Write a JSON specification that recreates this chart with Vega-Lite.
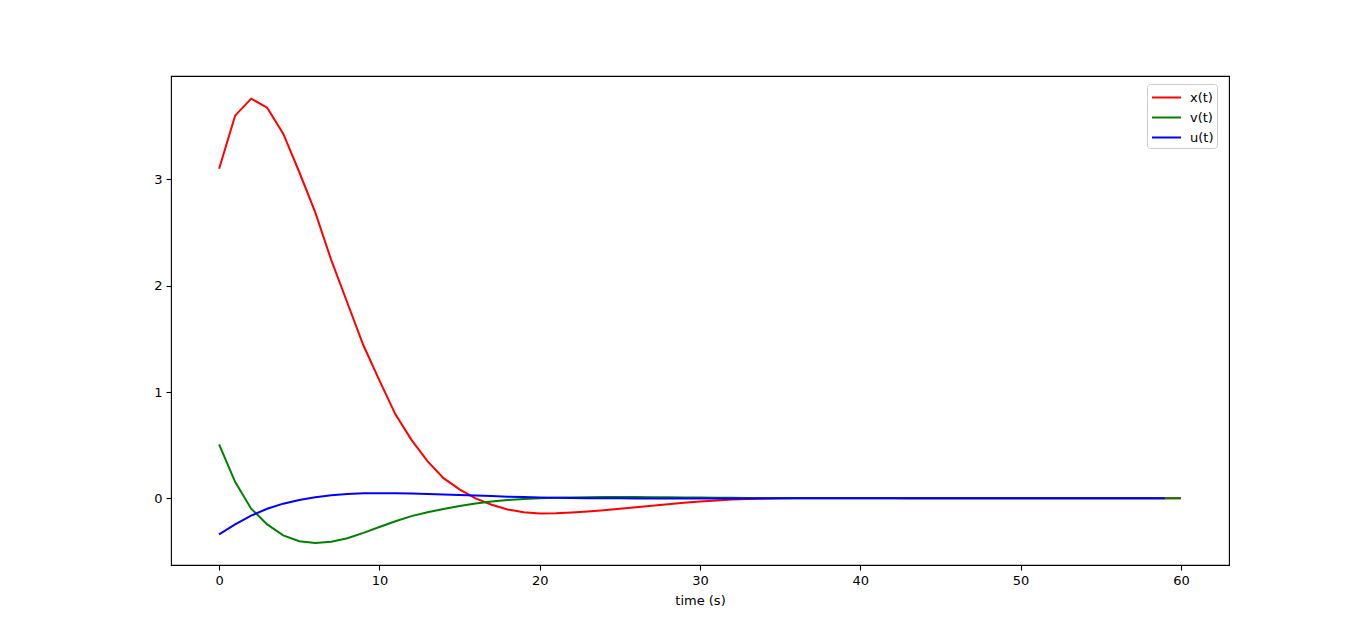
{
  "$schema": "https://vega.github.io/schema/vega-lite/v6.json",
  "autosize": {"type": "none"},
  "width": 1058,
  "height": 489,
  "padding": {"left": 171, "top": 76, "right": 137, "bottom": 70},
  "background": "white",
  "config": {
    "font": "DejaVu Sans",
    "view": {"stroke": "black", "strokeWidth": 1.1},
    "axis": {"grid": false, "domain": false, "tickColor": "black", "tickSize": 5, "tickWidth": 1.1, "labelColor": "black", "labelFontSize": 13, "labelPadding": 4, "labelFont": "DejaVu Sans", "titleFont": "DejaVu Sans", "titleFontSize": 13, "titleFontWeight": "normal", "titleColor": "black"}
  },
  "datasets": {
    "sim": [
      {"t":0,"s":"x(t)","y":3.10},{"t":1,"s":"x(t)","y":3.60},{"t":2,"s":"x(t)","y":3.76},{"t":3,"s":"x(t)","y":3.675},{"t":4,"s":"x(t)","y":3.43},{"t":5,"s":"x(t)","y":3.07},{"t":6,"s":"x(t)","y":2.69},{"t":7,"s":"x(t)","y":2.24},{"t":8,"s":"x(t)","y":1.84},{"t":9,"s":"x(t)","y":1.44},
      {"t":10,"s":"x(t)","y":1.11},{"t":11,"s":"x(t)","y":0.79},{"t":12,"s":"x(t)","y":0.55},{"t":13,"s":"x(t)","y":0.35},{"t":14,"s":"x(t)","y":0.19},{"t":15,"s":"x(t)","y":0.085},{"t":16,"s":"x(t)","y":0.0},{"t":17,"s":"x(t)","y":-0.06},{"t":18,"s":"x(t)","y":-0.105},{"t":19,"s":"x(t)","y":-0.13},
      {"t":20,"s":"x(t)","y":-0.142},{"t":21,"s":"x(t)","y":-0.141},{"t":22,"s":"x(t)","y":-0.134},{"t":23,"s":"x(t)","y":-0.124},{"t":24,"s":"x(t)","y":-0.111},{"t":25,"s":"x(t)","y":-0.097},{"t":26,"s":"x(t)","y":-0.083},{"t":27,"s":"x(t)","y":-0.069},{"t":28,"s":"x(t)","y":-0.055},{"t":29,"s":"x(t)","y":-0.042},
      {"t":30,"s":"x(t)","y":-0.03},{"t":31,"s":"x(t)","y":-0.02},{"t":32,"s":"x(t)","y":-0.012},{"t":33,"s":"x(t)","y":-0.006},{"t":34,"s":"x(t)","y":-0.002},{"t":35,"s":"x(t)","y":0.001},{"t":36,"s":"x(t)","y":0.003},{"t":37,"s":"x(t)","y":0.004},{"t":38,"s":"x(t)","y":0.004},{"t":39,"s":"x(t)","y":0.004},
      {"t":40,"s":"x(t)","y":0.004},{"t":41,"s":"x(t)","y":0.003},{"t":42,"s":"x(t)","y":0.003},{"t":43,"s":"x(t)","y":0.002},{"t":44,"s":"x(t)","y":0.002},{"t":45,"s":"x(t)","y":0.001},{"t":46,"s":"x(t)","y":0.001},{"t":47,"s":"x(t)","y":0.001},{"t":48,"s":"x(t)","y":0.0005},{"t":49,"s":"x(t)","y":0},
      {"t":50,"s":"x(t)","y":0},{"t":51,"s":"x(t)","y":0},{"t":52,"s":"x(t)","y":0},{"t":53,"s":"x(t)","y":0},{"t":54,"s":"x(t)","y":0},{"t":55,"s":"x(t)","y":0},{"t":56,"s":"x(t)","y":0},{"t":57,"s":"x(t)","y":0},{"t":58,"s":"x(t)","y":0},{"t":59,"s":"x(t)","y":0},{"t":60,"s":"x(t)","y":0},

      {"t":0,"s":"v(t)","y":0.508},{"t":1,"s":"v(t)","y":0.155},{"t":2,"s":"v(t)","y":-0.097},{"t":3,"s":"v(t)","y":-0.245},{"t":4,"s":"v(t)","y":-0.348},{"t":5,"s":"v(t)","y":-0.404},{"t":6,"s":"v(t)","y":-0.42},{"t":7,"s":"v(t)","y":-0.408},{"t":8,"s":"v(t)","y":-0.375},{"t":9,"s":"v(t)","y":-0.325},
      {"t":10,"s":"v(t)","y":-0.27},{"t":11,"s":"v(t)","y":-0.215},{"t":12,"s":"v(t)","y":-0.167},{"t":13,"s":"v(t)","y":-0.13},{"t":14,"s":"v(t)","y":-0.1},{"t":15,"s":"v(t)","y":-0.072},{"t":16,"s":"v(t)","y":-0.048},{"t":17,"s":"v(t)","y":-0.029},{"t":18,"s":"v(t)","y":-0.015},{"t":19,"s":"v(t)","y":-0.005},
      {"t":20,"s":"v(t)","y":0.002},{"t":21,"s":"v(t)","y":0.006},{"t":22,"s":"v(t)","y":0.009},{"t":23,"s":"v(t)","y":0.011},{"t":24,"s":"v(t)","y":0.012},{"t":25,"s":"v(t)","y":0.012},{"t":26,"s":"v(t)","y":0.012},{"t":27,"s":"v(t)","y":0.011},{"t":28,"s":"v(t)","y":0.01},{"t":29,"s":"v(t)","y":0.009},
      {"t":30,"s":"v(t)","y":0.008},{"t":31,"s":"v(t)","y":0.006},{"t":32,"s":"v(t)","y":0.005},{"t":33,"s":"v(t)","y":0.004},{"t":34,"s":"v(t)","y":0.003},{"t":35,"s":"v(t)","y":0.002},{"t":36,"s":"v(t)","y":0.001},{"t":37,"s":"v(t)","y":0.001},{"t":38,"s":"v(t)","y":0},{"t":39,"s":"v(t)","y":0},
      {"t":40,"s":"v(t)","y":0},{"t":41,"s":"v(t)","y":0},{"t":42,"s":"v(t)","y":0},{"t":43,"s":"v(t)","y":0},{"t":44,"s":"v(t)","y":0},{"t":45,"s":"v(t)","y":0},{"t":46,"s":"v(t)","y":0},{"t":47,"s":"v(t)","y":0},{"t":48,"s":"v(t)","y":0},{"t":49,"s":"v(t)","y":0},
      {"t":50,"s":"v(t)","y":0},{"t":51,"s":"v(t)","y":0},{"t":52,"s":"v(t)","y":0},{"t":53,"s":"v(t)","y":0},{"t":54,"s":"v(t)","y":0},{"t":55,"s":"v(t)","y":0},{"t":56,"s":"v(t)","y":0},{"t":57,"s":"v(t)","y":0},{"t":58,"s":"v(t)","y":0},{"t":59,"s":"v(t)","y":0},{"t":60,"s":"v(t)","y":0},

      {"t":0,"s":"u(t)","y":-0.339},{"t":1,"s":"u(t)","y":-0.245},{"t":2,"s":"u(t)","y":-0.163},{"t":3,"s":"u(t)","y":-0.098},{"t":4,"s":"u(t)","y":-0.05},{"t":5,"s":"u(t)","y":-0.015},{"t":6,"s":"u(t)","y":0.011},{"t":7,"s":"u(t)","y":0.029},{"t":8,"s":"u(t)","y":0.041},{"t":9,"s":"u(t)","y":0.047},
      {"t":10,"s":"u(t)","y":0.049},{"t":11,"s":"u(t)","y":0.048},{"t":12,"s":"u(t)","y":0.045},{"t":13,"s":"u(t)","y":0.041},{"t":14,"s":"u(t)","y":0.036},{"t":15,"s":"u(t)","y":0.031},{"t":16,"s":"u(t)","y":0.026},{"t":17,"s":"u(t)","y":0.021},{"t":18,"s":"u(t)","y":0.016},{"t":19,"s":"u(t)","y":0.012},
      {"t":20,"s":"u(t)","y":0.009},{"t":21,"s":"u(t)","y":0.006},{"t":22,"s":"u(t)","y":0.004},{"t":23,"s":"u(t)","y":0.002},{"t":24,"s":"u(t)","y":0.001},{"t":25,"s":"u(t)","y":0},{"t":26,"s":"u(t)","y":-0.001},{"t":27,"s":"u(t)","y":-0.001},{"t":28,"s":"u(t)","y":-0.002},{"t":29,"s":"u(t)","y":-0.002},
      {"t":30,"s":"u(t)","y":-0.002},{"t":31,"s":"u(t)","y":-0.002},{"t":32,"s":"u(t)","y":-0.001},{"t":33,"s":"u(t)","y":-0.001},{"t":34,"s":"u(t)","y":-0.001},{"t":35,"s":"u(t)","y":0},{"t":36,"s":"u(t)","y":0},{"t":37,"s":"u(t)","y":0},{"t":38,"s":"u(t)","y":0},{"t":39,"s":"u(t)","y":0},
      {"t":40,"s":"u(t)","y":0},{"t":41,"s":"u(t)","y":0},{"t":42,"s":"u(t)","y":0},{"t":43,"s":"u(t)","y":0},{"t":44,"s":"u(t)","y":0},{"t":45,"s":"u(t)","y":0},{"t":46,"s":"u(t)","y":0},{"t":47,"s":"u(t)","y":0},{"t":48,"s":"u(t)","y":0},{"t":49,"s":"u(t)","y":0},
      {"t":50,"s":"u(t)","y":0},{"t":51,"s":"u(t)","y":0},{"t":52,"s":"u(t)","y":0},{"t":53,"s":"u(t)","y":0},{"t":54,"s":"u(t)","y":0},{"t":55,"s":"u(t)","y":0},{"t":56,"s":"u(t)","y":0},{"t":57,"s":"u(t)","y":0},{"t":58,"s":"u(t)","y":0},{"t":59,"s":"u(t)","y":0}
    ]
  },
  "data": {"name": "sim"},
  "mark": {"type": "line", "strokeWidth": 2, "clip": true},
  "encoding": {
    "x": {
      "field": "t", "type": "quantitative",
      "scale": {"domain": [-3, 63], "nice": false, "zero": false},
      "axis": {"values": [0, 10, 20, 30, 40, 50, 60], "title": "time (s)", "titlePadding": 7, "format": "d"}
    },
    "y": {
      "field": "y", "type": "quantitative",
      "scale": {"domain": [-0.627, 3.973], "nice": false, "zero": false},
      "axis": {"values": [0, 1, 2, 3], "title": null, "format": "d"}
    },
    "color": {
      "field": "s", "type": "nominal",
      "scale": {"domain": ["x(t)", "v(t)", "u(t)"], "range": ["#ff0000", "#008000", "#0000ff"]},
      "legend": {
        "title": null,
        "orient": "none",
        "legendX": 976,
        "legendY": 8,
        "symbolType": "M-1.53,0H1.53",
        "symbolSize": 361,
        "symbolStrokeWidth": 2,
        "symbolOffset": 6,
        "labelOffset": 13,
        "labelFontSize": 13,
        "labelColor": "black",
        "labelFont": "DejaVu Sans",
        "rowPadding": 2,
        "padding": 3,
        "fillColor": "white",
        "strokeColor": "#cccccc",
        "cornerRadius": 3
      }
    }
  }
}
